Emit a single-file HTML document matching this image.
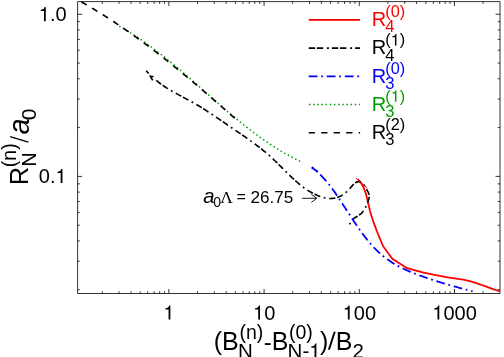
<!DOCTYPE html>
<html><head><meta charset="utf-8"><title>plot</title>
<style>
html,body{margin:0;padding:0;background:#fff;}
svg{display:block;will-change:transform;}
text{font-family:"Liberation Sans",sans-serif;}
.ser{font-family:"Liberation Serif",serif;}
</style></head><body>
<svg width="504" height="357" viewBox="0 0 504 357">
<rect x="0" y="0" width="504" height="357" fill="#fff"/>

<rect x="77.6" y="1.6" width="422.4" height="291.9" fill="none" stroke="#000" stroke-width="0.8" stroke-linejoin="round"/>
<path d="M102.31 293.5v-2.2M102.31 1.6v2.2M119.07 293.5v-2.2M119.07 1.6v2.2M130.97 293.5v-2.2M130.97 1.6v2.2M140.19 293.5v-2.2M140.19 1.6v2.2M147.73 293.5v-2.2M147.73 1.6v2.2M154.10 293.5v-2.2M154.10 1.6v2.2M159.62 293.5v-2.2M159.62 1.6v2.2M164.49 293.5v-2.2M164.49 1.6v2.2M168.85 293.5v-4.5M168.85 1.6v4.5M197.51 293.5v-2.2M197.51 1.6v2.2M214.27 293.5v-2.2M214.27 1.6v2.2M226.17 293.5v-2.2M226.17 1.6v2.2M235.39 293.5v-2.2M235.39 1.6v2.2M242.93 293.5v-2.2M242.93 1.6v2.2M249.30 293.5v-2.2M249.30 1.6v2.2M254.82 293.5v-2.2M254.82 1.6v2.2M259.69 293.5v-2.2M259.69 1.6v2.2M264.05 293.5v-4.5M264.05 1.6v4.5M292.71 293.5v-2.2M292.71 1.6v2.2M309.47 293.5v-2.2M309.47 1.6v2.2M321.37 293.5v-2.2M321.37 1.6v2.2M330.59 293.5v-2.2M330.59 1.6v2.2M338.13 293.5v-2.2M338.13 1.6v2.2M344.50 293.5v-2.2M344.50 1.6v2.2M350.02 293.5v-2.2M350.02 1.6v2.2M354.89 293.5v-2.2M354.89 1.6v2.2M359.25 293.5v-4.5M359.25 1.6v4.5M387.91 293.5v-2.2M387.91 1.6v2.2M404.67 293.5v-2.2M404.67 1.6v2.2M416.57 293.5v-2.2M416.57 1.6v2.2M425.79 293.5v-2.2M425.79 1.6v2.2M433.33 293.5v-2.2M433.33 1.6v2.2M439.70 293.5v-2.2M439.70 1.6v2.2M445.22 293.5v-2.2M445.22 1.6v2.2M450.09 293.5v-2.2M450.09 1.6v2.2M454.45 293.5v-4.5M454.45 1.6v4.5M483.11 293.5v-2.2M483.11 1.6v2.2M77.6 289.74h2.2M500.0 289.74h-2.2M77.6 261.18h2.2M500.0 261.18h-2.2M77.6 240.93h2.2M500.0 240.93h-2.2M77.6 225.21h2.2M500.0 225.21h-2.2M77.6 212.37h2.2M500.0 212.37h-2.2M77.6 201.52h2.2M500.0 201.52h-2.2M77.6 192.11h2.2M500.0 192.11h-2.2M77.6 183.82h2.2M500.0 183.82h-2.2M77.6 176.40h4.5M500.0 176.40h-4.5M77.6 127.59h2.2M500.0 127.59h-2.2M77.6 99.03h2.2M500.0 99.03h-2.2M77.6 78.78h2.2M500.0 78.78h-2.2M77.6 63.06h2.2M500.0 63.06h-2.2M77.6 50.22h2.2M500.0 50.22h-2.2M77.6 39.37h2.2M500.0 39.37h-2.2M77.6 29.96h2.2M500.0 29.96h-2.2M77.6 21.67h2.2M500.0 21.67h-2.2M77.6 14.25h4.5M500.0 14.25h-4.5" fill="none" stroke="#000" stroke-width="0.8"/>
<path d="M349 0H259V-505H102V-568C215 -577 268 -611 291 -709H349Z" transform="translate(38.80,21.20) scale(0.02000)" fill="#000"/><text x="49.92" y="21.20" font-size="20" fill="#000">.0</text>
<text x="38.80" y="183.10" font-size="20" fill="#000">0.</text><path d="M349 0H259V-505H102V-568C215 -577 268 -611 291 -709H349Z" transform="translate(55.48,183.10) scale(0.02000)" fill="#000"/>
<path d="M349 0H259V-505H102V-568C215 -577 268 -611 291 -709H349Z" transform="translate(163.39,319.60) scale(0.02000)" fill="#000"/>
<path d="M349 0H259V-505H102V-568C215 -577 268 -611 291 -709H349Z" transform="translate(253.03,319.60) scale(0.02000)" fill="#000"/><text x="264.15" y="319.60" font-size="20" fill="#000">0</text>
<path d="M349 0H259V-505H102V-568C215 -577 268 -611 291 -709H349Z" transform="translate(342.67,319.60) scale(0.02000)" fill="#000"/><text x="353.79" y="319.60" font-size="20" fill="#000">00</text>
<path d="M349 0H259V-505H102V-568C215 -577 268 -611 291 -709H349Z" transform="translate(432.31,319.60) scale(0.02000)" fill="#000"/><text x="443.43" y="319.60" font-size="20" fill="#000">000</text>
<g fill="none">
<path d="M357.8 179.2L358.6 180.1L359.5 181.1L360.2 182.0L361.0 183.0L361.6 184.1L362.2 185.1L362.8 186.1L363.4 187.2L363.9 188.3L364.3 189.4L364.8 190.6L365.2 191.7L365.6 192.9L365.9 194.1L366.3 195.2L366.6 196.4L366.9 197.6L367.2 198.8L367.5 200.0L367.8 201.3L368.0 202.5L368.3 203.7L368.6 204.9L368.8 206.1L369.1 207.4L369.4 208.6L369.7 209.8L370.0 211.0L370.4 212.2L370.7 213.4L371.1 214.6L371.4 215.7L371.8 216.9L372.2 218.1L372.6 219.3L373.0 220.4L373.4 221.6L373.8 222.8L374.2 223.9L374.6 225.1L375.0 226.2L375.5 227.4L375.9 228.5L376.3 229.7L376.8 230.8L377.2 232.0L377.7 233.1L378.1 234.3L378.6 235.4L379.1 236.6L379.5 237.7L380.0 238.9L380.5 240.0L381.0 241.2L381.5 242.3L381.9 243.4L382.4 244.6L382.9 245.7L383.5 246.8L392.3 258.7L407.1 268.2L422.6 272.4L434.6 274.9L447.8 277.4L461.2 279.4L463.3 279.7L465.4 280.2L467.5 280.6L469.5 281.1L471.6 281.7L473.6 282.3L475.7 282.9L477.7 283.6L479.7 284.3L481.7 285.0L483.7 285.7L485.7 286.4L487.7 287.2L489.7 287.9L491.7 288.6L493.7 289.3L495.7 290.0L497.8 290.7L499.8 291.3" stroke="#ff0000" stroke-width="1.8" stroke-linejoin="round"/>
<path d="M119.2 26.2L120.6 27.0L121.9 27.7L123.3 28.5L124.6 29.3L125.9 30.1L127.3 30.9L128.6 31.7L129.9 32.5L131.2 33.3L132.5 34.1L133.8 34.9L135.1 35.8L136.4 36.6L137.7 37.4L139.0 38.3L140.2 39.2L141.5 40.0L142.8 40.9L144.0 41.8L145.3 42.7L146.6 43.5L147.8 44.4L149.1 45.3L150.3 46.2L151.5 47.1L152.8 48.1L154.0 49.0L155.2 49.9L156.5 50.8L157.7 51.8L158.9 52.7L160.1 53.6L161.3 54.6L162.5 55.5L163.7 56.5L165.0 57.5L166.2 58.4L167.4 59.4L168.5 60.4L169.7 61.3L170.9 62.3L172.1 63.3L173.3 64.3L174.5 65.2L175.7 66.2L176.8 67.2L178.0 68.2L179.2 69.2L180.4 70.2L181.5 71.2L182.7 72.2L183.9 73.2L185.0 74.2L186.2 75.2L187.4 76.3L188.5 77.3L189.7 78.3L190.9 79.3L192.0 80.3L193.2 81.3L194.3 82.3L195.5 83.4L196.7 84.4L197.8 85.4L199.0 86.4L200.1 87.5L201.3 88.5L202.4 89.5L203.6 90.5L204.7 91.5L205.9 92.6L207.0 93.6L208.2 94.6L209.4 95.6L210.5 96.7L211.7 97.7L212.8 98.7L214.0 99.7L215.1 100.7L216.3 101.8L217.5 102.8L218.6 103.8L219.8 104.8L220.9 105.8L222.1 106.8L223.3 107.8L224.4 108.8L225.6 109.8L226.8 110.8L227.9 111.8L229.1 112.8L230.3 113.8L231.5 114.8L232.6 115.8L233.8 116.8L235.0 117.8L236.2 118.8L237.4 119.7L238.6 120.7L239.8 121.7L241.0 122.7L242.2 123.6L243.4 124.6L244.6 125.5L245.8 126.5L247.0 127.4L248.2 128.4L249.4 129.3L250.6 130.2L251.8 131.2L253.1 132.1L254.3 133.0L255.5 133.9L256.8 134.9L258.0 135.8L259.2 136.7L260.5 137.6L261.7 138.4L263.0 139.3L264.2 140.2L265.5 141.1L266.8 141.9L268.0 142.8L269.3 143.7L270.6 144.5L271.9 145.4L273.2 146.2L274.5 147.0L275.8 147.8L277.1 148.7L278.4 149.5L279.7 150.3L281.0 151.1L282.3 151.8L283.7 152.6L285.0 153.4L286.4 154.2L287.7 154.9L289.1 155.7L290.4 156.4L291.8 157.1L293.1 157.9L294.5 158.6L295.9 159.3L297.3 160.0L298.7 160.7L300.1 161.4L301.5 162.0L302.9 162.7" stroke="#00a000" stroke-width="1.5" stroke-dasharray="1.5 2.67"/>
<path d="M81.3 1.9L82.8 2.7L84.2 3.5L85.6 4.3L87.0 5.1L88.4 5.9L89.8 6.8L91.2 7.6L92.6 8.4L94.0 9.3L95.4 10.1L96.8 11.0L98.2 11.8L99.6 12.7L101.0 13.5L102.3 14.4L103.7 15.2L105.1 16.1L106.5 17.0L107.8 17.9L109.2 18.7L110.6 19.6L111.9 20.5L113.3 21.4L114.6 22.3L116.0 23.2L117.3 24.1L118.7 25.0L120.0 25.9L121.4 26.8L122.7 27.7L124.1 28.7L125.4 29.6L126.7 30.5L128.1 31.4L129.4 32.4L130.7 33.3L132.0 34.2L133.4 35.2L134.7 36.1L136.0 37.1L137.3 38.0L138.6 39.0L139.9 39.9L141.2 40.9L142.6 41.9L143.9 42.8L145.2 43.8L146.5 44.8L147.8 45.7L149.1 46.7L150.3 47.7L151.6 48.7L152.9 49.7L154.2 50.6L155.5 51.6L156.8 52.6L158.1 53.6L159.4 54.6L160.6 55.6L161.9 56.6L163.2 57.6L164.5 58.6L165.7 59.6L167.0 60.6L168.3 61.7L169.6 62.7L170.8 63.7L172.1 64.7L173.3 65.7L174.6 66.8L175.9 67.8L177.1 68.8L178.4 69.8L179.6 70.9L180.9 71.9L182.1 72.9L183.4 74.0L184.7 75.0L185.9 76.0L187.1 77.1L188.4 78.1L189.6 79.2L190.9 80.2L192.1 81.2L193.4 82.3L194.6 83.3L195.9 84.4L197.1 85.4L198.3 86.5L199.6 87.6L200.8 88.6L202.0 89.7L203.3 90.7L204.5 91.8L205.7 92.8L207.0 93.9L208.2 95.0L209.4 96.0L210.7 97.1L211.9 98.2L213.1 99.2L214.3 100.3L215.6 101.4L216.8 102.4L218.0 103.5L219.2 104.6L220.5 105.6L221.7 106.7L222.9 107.8L224.1 108.8L225.3 109.9L226.6 111.0L227.8 112.1L229.0 113.1L230.2 114.2L231.4 115.3L232.7 116.3L233.9 117.4L235.1 118.5" stroke="#000" stroke-width="1.65" stroke-dasharray="6.25 6.2"/>
<path d="M146.2 70.9L148.7 73.5M149.8 75.3L152.7 80.4M151.4 76.3L153.6 76.8" stroke="#000" stroke-width="1.65"/>
<path d="M155.6 79.8L156.4 80.4L157.2 81.1L157.9 81.7L158.7 82.3L159.5 83.0L160.3 83.6L161.1 84.2L162.0 84.7L162.8 85.3L163.6 85.9L164.4 86.5L165.3 87.0L166.1 87.6L167.0 88.1L167.8 88.6L168.7 89.1L169.5 89.7L170.4 90.2L171.3 90.7L172.1 91.2L173.0 91.7L173.9 92.2L174.8 92.7L175.6 93.2L176.5 93.6L177.4 94.1L178.3 94.6L179.2 95.1L180.1 95.6L181.0 96.0L181.9 96.5L182.7 97.0L183.6 97.5L184.5 97.9L185.4 98.4L186.3 98.9L187.2 99.4L188.1 99.8L189.0 100.3L189.9 100.8L190.7 101.3L191.6 101.8L192.5 102.3L193.4 102.8L194.2 103.3L195.1 103.8L196.0 104.3L196.9 104.8L197.7 105.3L198.6 105.8L199.4 106.3L200.3 106.8L201.2 107.4L202.0 107.9L202.9 108.4L203.7 109.0L204.6 109.5L205.4 110.0L206.3 110.6L207.1 111.1L207.9 111.7L208.8 112.2L209.6 112.8L210.5 113.3L211.3 113.9L212.1 114.4L213.0 115.0L213.8 115.5L214.7 116.1L215.5 116.7L216.3 117.2L217.2 117.8L218.0 118.4L218.8 118.9L219.7 119.5L220.5 120.1L221.3 120.6L222.1 121.2L223.0 121.8L223.8 122.3L224.6 122.9L225.5 123.5L226.3 124.0L227.1 124.6L227.9 125.2L228.8 125.7L229.6 126.3L230.4 126.9L231.3 127.5L232.1 128.0L232.9 128.6L233.8 129.2L234.6 129.7L235.4 130.3L236.3 130.9L237.1 131.4L237.9 132.0L238.8 132.6L239.6 133.1L240.4 133.7L241.2 134.3L242.1 134.8L242.9 135.4L243.7 136.0L244.6 136.5L245.4 137.1L246.2 137.7L247.0 138.3L247.9 138.9L248.7 139.4L249.5 140.0L250.3 140.6L251.1 141.2L252.0 141.8L252.8 142.4L253.6 143.0L254.4 143.6L255.2 144.2L256.0 144.8L256.8 145.4L257.6 146.0L258.4 146.6L259.2 147.2L260.0 147.8L260.8 148.4L261.6 149.1L262.3 149.7L263.1 150.3L263.9 151.0L264.7 151.6L265.5 152.2L266.2 152.9L267.0 153.5L267.7 154.2L268.5 154.9L269.3 155.5L270.0 156.2L270.7 156.9L271.5 157.6L272.2 158.2L273.0 158.9L273.7 159.6L274.4 160.3L275.1 161.0L275.9 161.7L276.6 162.4L277.3 163.1L278.0 163.8L278.7 164.5L279.5 165.3L280.2 166.0L280.9 166.7L281.6 167.4L282.3 168.1L283.0 168.8L283.8 169.5L284.5 170.2L285.2 171.0L285.9 171.7L286.6 172.4L287.3 173.1L288.1 173.8L288.8 174.5L289.5 175.2L290.2 175.9L291.0 176.6L291.7 177.3L292.4 178.0L293.2 178.7L293.9 179.3L294.6 180.0L295.4 180.7L296.1 181.3L296.9 182.0L297.7 182.7L298.4 183.3L299.2 184.0L300.0 184.6L300.8 185.2L301.5 185.8L302.3 186.5L303.1 187.1L303.9 187.7L304.8 188.2L305.6 188.8L306.4 189.4L307.2 189.9L308.1 190.5L308.9 191.0L309.8 191.5L310.7 192.1L311.5 192.5L312.4 193.0L313.3 193.5L314.2 194.0L315.2 194.4L316.1 194.8L317.0 195.3L318.0 195.7L318.9 196.0L319.9 196.4L320.8 196.7L321.8 197.1L322.8 197.3L323.8 197.6L324.7 197.8L325.7 198.0L326.7 198.2L327.7 198.3L328.7 198.4L329.7 198.5L330.6 198.5L331.6 198.5L332.6 198.4L333.5 198.3L334.5 198.2L335.4 198.0L336.4 197.8L337.3 197.5L338.2 197.1L339.1 196.7L340.0 196.3L340.9 195.9L341.8 195.4L342.6 194.8L343.5 194.2L344.3 193.6L345.1 193.0L346.0 192.3L346.8 191.6L347.5 190.9L348.3 190.1L349.1 189.4L349.8 188.6L350.5 187.8L351.2 186.9L351.9 186.1L352.6 185.3L353.3 184.6L354.1 183.9L354.8 183.2L355.5 182.7L356.3 182.2L357.1 181.9L358.0 181.7L358.8 181.6L359.7 181.7L360.5 181.9L361.3 182.3L362.1 182.9L362.8 183.5L363.4 184.3L364.1 185.1L364.7 186.0L365.2 186.9L365.8 187.9L366.4 188.9L366.9 189.8L367.4 190.8L367.9 191.7L368.4 192.6L368.7 193.5L369.0 194.4L369.2 195.3L369.2 196.2L369.2 197.1L369.0 198.1L368.8 199.0L368.5 199.9L368.2 200.9L367.9 201.8L367.5 202.8L367.1 203.8L366.7 204.7L366.3 205.7L365.9 206.6L365.5 207.6L365.0 208.5L364.5 209.4L364.0 210.2L363.4 211.1L362.8 211.8L362.1 212.6L361.4 213.3L360.7 213.9L359.9 214.5L359.1 215.1L358.2 215.6L357.4 216.2L356.5 216.7L355.7 217.2L354.9 217.8L354.0 218.3L353.3 219.0L352.6 219.6L351.9 220.3L351.3 221.1L350.8 222.0L350.4 222.9L349.4 224.6" stroke="#000" stroke-width="1.65" stroke-dasharray="6.2 1.9 6.2 3.65 1.8 3.72" stroke-dashoffset="22.6"/>
<path d="M355.8 177.9L367.2 188.0" stroke="#ff0000" stroke-width="1.0"/>
<path d="M311.8 167.2L312.7 167.8L313.5 168.5L314.3 169.2L315.2 169.9L316.0 170.6L316.8 171.3L317.5 172.0L318.3 172.8L319.1 173.5L319.8 174.2L320.6 175.0L321.3 175.7L322.1 176.5L322.8 177.3L323.5 178.0L324.2 178.8L324.9 179.6L325.6 180.4L326.3 181.2L327.0 182.0L327.6 182.8L328.3 183.7L329.0 184.5L329.6 185.3L330.3 186.2L330.9 187.0L331.6 187.8L332.2 188.7L332.8 189.6L333.4 190.4L334.1 191.3L334.7 192.1L335.3 193.0L335.9 193.9L336.5 194.8L337.1 195.6L337.7 196.5L338.3 197.4L338.9 198.3L339.5 199.2L340.0 200.0L340.6 200.9L341.2 201.8L341.8 202.7L342.4 203.6L342.9 204.5L343.5 205.4L344.1 206.3L344.7 207.2L345.3 208.1L345.8 209.0L346.4 209.9L347.0 210.8L347.6 211.7L348.1 212.6L348.7 213.5L349.3 214.3L349.9 215.2L350.5 216.1L351.0 217.0L351.6 217.9L352.2 218.8L352.8 219.7L353.4 220.6L354.0 221.4L354.6 222.3L355.2 223.2L355.8 224.1L356.4 225.0L357.0 225.8L357.6 226.7L358.2 227.6L358.8 228.5L359.4 229.3L360.0 230.2L360.6 231.1L361.3 231.9L361.9 232.8L362.5 233.6L363.2 234.5L363.8 235.4L364.5 236.2L365.1 237.1L365.8 237.9L366.4 238.7L367.1 239.6L367.8 240.4L368.4 241.2L369.1 242.0L369.8 242.9L370.5 243.7L371.2 244.5L371.9 245.3L372.6 246.1L373.3 246.8L374.0 247.6L374.8 248.4L375.5 249.1L376.3 249.9L377.0 250.6L377.8 251.4L378.5 252.1L379.3 252.8L380.1 253.5L380.9 254.2L381.7 254.9L382.5 255.6L383.3 256.2L384.1 256.9L385.0 257.5L385.8 258.2L386.7 258.8L387.5 259.4L388.4 260.0L389.3 260.6L390.1 261.2L391.0 261.8L391.9 262.4L392.8 262.9L393.7 263.5L394.6 264.0L395.5 264.6L396.4 265.1L397.4 265.6L398.3 266.1L399.2 266.6L400.2 267.1L401.1 267.6L402.1 268.1L403.0 268.5L404.0 269.0L404.9 269.4L405.9 269.9L406.9 270.3L407.9 270.7L408.8 271.2L409.8 271.6L410.8 272.0L411.8 272.4L412.8 272.8L413.8 273.2L414.8 273.6L415.8 274.0L416.7 274.3L417.7 274.7L418.7 275.1L419.7 275.5L420.7 275.8L421.7 276.2L422.7 276.5L423.8 276.9L424.8 277.2L425.8 277.6L426.8 277.9L427.8 278.3L428.8 278.6L429.8 279.0L430.8 279.3L431.8 279.6L432.8 279.9L433.8 280.3L434.8 280.6L435.9 280.9L436.9 281.2L437.9 281.6L438.9 281.9L439.9 282.2L440.9 282.5L441.9 282.8L442.9 283.1L444.0 283.4L445.0 283.7L446.0 284.0L447.0 284.3L448.0 284.6L449.0 284.9L450.1 285.2L451.1 285.5L452.1 285.8L453.1 286.1L454.1 286.4L455.2 286.6L456.2 286.9L457.2 287.2L458.2 287.5L459.3 287.8L460.3 288.1L461.3 288.3L462.3 288.6L463.4 288.9L464.4 289.2L465.4 289.4L466.4 289.7L467.5 290.0L468.5 290.3L469.5 290.5L470.6 290.8L471.6 291.1L472.6 291.4" stroke="#0000ff" stroke-width="1.8" stroke-dasharray="8.8 3.7 1.8 3.75" stroke-dashoffset="6.68"/>
<path d="M311.7 167.4L317.8 171.8" stroke="#0000ff" stroke-width="1.8"/>
<path d="M308.7 19.9H360" stroke="#ff0000" stroke-width="1.8"/>
<path d="M308.7 48.15H360" stroke="#000" stroke-width="1.65" stroke-dasharray="6.4 1.7 6.4 3.7 2 3"/>
<path d="M308.7 76.4H360" stroke="#0000ff" stroke-width="1.8" stroke-dasharray="8.8 3.65 1.8 3.8"/>
<path d="M308.9 104.55H360" stroke="#00a000" stroke-width="1.5" stroke-dasharray="1.5 2.67"/>
<path d="M308.7 132.75H360.1" stroke="#000" stroke-width="1.65" stroke-dasharray="6.25 6.25"/>
</g>
<text x="371.80" y="26.10" font-size="20.0" fill="#ff0000">R</text>
<text x="385.20" y="32.40" font-size="16.6" fill="#ff0000">4</text>
<text x="385.30" y="17.20" font-size="16.3" fill="#ff0000">(0)</text>
<text x="371.80" y="54.35" font-size="20.0" fill="#000">R</text>
<text x="385.20" y="60.65" font-size="16.6" fill="#000">4</text>
<text x="385.30" y="45.45" font-size="16.3" fill="#000">(</text><path d="M349 0H259V-505H102V-568C215 -577 268 -611 291 -709H349Z" transform="translate(390.73,45.45) scale(0.01630)" fill="#000"/><text x="399.79" y="45.45" font-size="16.3" fill="#000">)</text>
<text x="371.80" y="82.60" font-size="20.0" fill="#0000ff">R</text>
<text x="385.20" y="88.90" font-size="16.6" fill="#0000ff">3</text>
<text x="385.30" y="73.70" font-size="16.3" fill="#0000ff">(0)</text>
<text x="371.80" y="110.75" font-size="20.0" fill="#00a000">R</text>
<text x="385.20" y="117.05" font-size="16.6" fill="#00a000">3</text>
<text x="385.30" y="101.85" font-size="16.3" fill="#00a000">(</text><path d="M349 0H259V-505H102V-568C215 -577 268 -611 291 -709H349Z" transform="translate(390.73,101.85) scale(0.01630)" fill="#00a000"/><text x="399.79" y="101.85" font-size="16.3" fill="#00a000">)</text>
<text x="371.80" y="138.95" font-size="20.0" fill="#000">R</text>
<text x="385.20" y="145.25" font-size="16.6" fill="#000">3</text>
<text x="385.30" y="130.05" font-size="16.3" fill="#000">(2)</text>
<text x="203.2" y="202.6" font-size="20.3" font-style="italic">a</text>
<text x="213.2" y="207" font-size="14">0</text>
<text x="220.2" y="202.6" font-size="17.3" class="ser">Λ</text>
<text x="236.4" y="202.3" font-size="16">=</text>
<text x="250.6" y="202.6" font-size="17.1">26.75</text>
<path d="M302.2 198.3H316.6M311.3 194.3L316.7 198.3L311.3 202.4" fill="none" stroke="#000" stroke-width="0.9" stroke-linejoin="round"/>
<path d="M28.4 142.1L10.1 136.6" stroke="#000" stroke-width="1.5" fill="none"/>
<g transform="translate(28.1,184.9) rotate(-90)"><text x="0" y="0" font-size="25">R</text><text x="18.3" y="7.6" font-size="19.5">N</text><text x="17.7" y="-12.2" font-size="19.5">(n)</text><text x="50.4" y="0.6" font-size="29" font-style="italic">a</text><text x="64.6" y="7.6" font-size="21">0</text></g>
<text x="213.7" y="349.7" font-size="25">(</text><text x="222.1" y="349.7" font-size="25">B</text><text x="238.0" y="358.0" font-size="20.5">N</text><text x="239.5" y="339.3" font-size="19.5">(n)</text><text x="263.8" y="349.7" font-size="24">-</text><text x="271.7" y="349.7" font-size="25">B</text><text x="287.60" y="358.00" font-size="20.5" fill="#000">N-</text><path d="M349 0H259V-505H102V-568C215 -577 268 -611 291 -709H349Z" transform="translate(309.23,358.00) scale(0.02050)" fill="#000"/><text x="289" y="339.3" font-size="19.5">(0)</text><text x="320.1" y="349.7" font-size="25">)</text><path d="M327.9 349.8H329.9L335.7 331.8H333.7Z" fill="#000"/><text x="335.7" y="349.7" font-size="25">B</text><text x="352.5" y="358.0" font-size="20.5">2</text>
</svg></body></html>
